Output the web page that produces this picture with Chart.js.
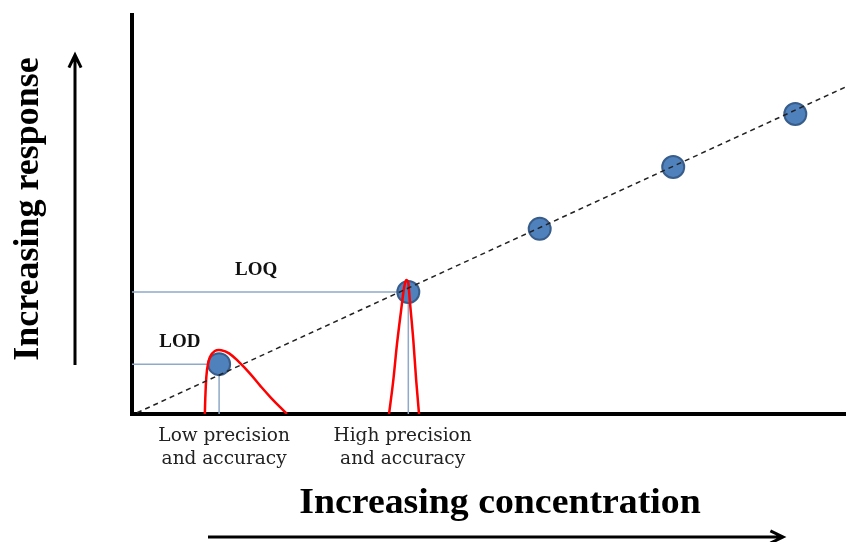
<!DOCTYPE html>
<html>
<head>
<meta charset="utf-8">
<script src="https://cdn.jsdelivr.net/npm/chart.js@4.4.1/dist/chart.umd.min.js"></script>
<style>
	html, body { margin: 0; padding: 0; background: #fff; overflow: hidden; }
	#wrap { position: relative; width: 846px; height: 542px; }
	canvas { display: block; }
</style>
</head>
<body>
<div id="wrap"><canvas id="cal"></canvas></div>
<script>
// calibration standards (concentration / response, arbitrary units 0..10)
const concentration = [1.22, 3.87, 5.71, 7.58, 9.29];
const response = [1.25, 3.06, 4.64, 6.19, 7.52];

// dashed regression line end points
const fitX = [0.07, 10];
const fitY = [0.03, 8.2];

// broad (low precision) spread around the LOD standard
const lodCurveX = [1.02, 1.03, 1.05, 1.09, 1.16, 1.25, 1.36, 1.5, 1.65, 1.8, 1.95, 2.17];
const lodCurveY = [0, 0.55, 1.1, 1.42, 1.58, 1.6, 1.52, 1.3, 1.02, 0.7, 0.4, 0];

// narrow (high precision) spread around the LOQ standard
const loqCurveX = [3.6, 3.66, 3.71, 3.77, 3.81, 3.84, 3.87, 3.89, 3.94, 3.98, 4.02];
const loqCurveY = [0, 0.85, 1.73, 2.61, 3.16, 3.36, 3.28, 2.86, 1.85, 0.85, 0];

// limit labels, anchored in data units
const limitNames = ["LOD", "LOQ"];
const limitLabelX = [0.67, 1.74];
const limitLabelY = [1.68, 3.48];

const precisionLines = [
	["Low precision", "and accuracy"],
	["High precision", "and accuracy"],
];
const precisionX = [1.29, 3.79];

const zip = (xs, ys) => xs.map((x, i) => ({ x: x, y: ys[i] }));

// guide from the y axis across to a standard and down to the x axis
const guide = (i) => [
	{ x: 0, y: response[i] },
	{ x: concentration[i], y: response[i] },
	{ x: concentration[i], y: 0 },
];

const SERIF = '"Liberation Serif", "Times New Roman", serif';
const SERIF_WIDE = '"DejaVu Serif", serif';

function arrow(ctx, x1, y1, x2, y2) {
	const a = Math.atan2(y2 - y1, x2 - x1);
	const h = 14;
	ctx.beginPath();
	ctx.moveTo(x1, y1);
	ctx.lineTo(x2, y2);
	ctx.moveTo(x2 - h * Math.cos(a - 0.45), y2 - h * Math.sin(a - 0.45));
	ctx.lineTo(x2, y2);
	ctx.lineTo(x2 - h * Math.cos(a + 0.45), y2 - h * Math.sin(a + 0.45));
	ctx.stroke();
}

const annotations = {
	id: "annotations",
	afterDraw(chart) {
		const ctx = chart.ctx;
		const xs = chart.scales.x;
		const ys = chart.scales.y;
		const area = chart.chartArea;
		ctx.save();

		// LOD / LOQ
		ctx.fillStyle = "#111";
		ctx.textAlign = "center";
		ctx.textBaseline = "alphabetic";
		ctx.font = "bold 19px " + SERIF;
		limitNames.forEach((name, i) => {
			ctx.fillText(name, xs.getPixelForValue(limitLabelX[i]), ys.getPixelForValue(limitLabelY[i]));
		});

		// precision captions under the x axis
		ctx.font = "18.5px " + SERIF_WIDE;
		ctx.fillStyle = "#222";
		precisionLines.forEach((lines, i) => {
			const px = xs.getPixelForValue(precisionX[i]);
			lines.forEach((t, j) => ctx.fillText(t, px, area.bottom + 27 + j * 23));
		});

		// axis titles
		ctx.fillStyle = "#000";
		ctx.save();
		ctx.translate(500, area.bottom + 99);
		ctx.scale(1.08, 1);
		ctx.font = "bold 35px " + SERIF;
		ctx.fillText("Increasing concentration", 0, 0);
		ctx.restore();

		ctx.save();
		ctx.translate(38, 209);
		ctx.rotate(-Math.PI / 2);
		ctx.font = "bold 36px " + SERIF;
		ctx.fillText("Increasing response", 0, 0);
		ctx.restore();

		// direction arrows
		ctx.strokeStyle = "#000";
		ctx.lineWidth = 3;
		arrow(ctx, 75, 365, 75, 55);
		arrow(ctx, 208, 537, 783, 537);

		ctx.restore();
	},
};

new Chart(document.getElementById("cal"), {
	type: "scatter",
	data: {
		datasets: [
			{
				label: "fit",
				data: zip(fitX, fitY),
				showLine: true,
				pointRadius: 0,
				borderColor: "#222",
				borderWidth: 1.5,
				borderDash: [5, 4],
				order: 1,
			},
			{
				label: "LOD spread",
				data: zip(lodCurveX, lodCurveY),
				showLine: true,
				pointRadius: 0,
				borderColor: "#ff0000",
				borderWidth: 2.5,
				tension: 0.4,
				order: 1,
			},
			{
				label: "LOQ spread",
				data: zip(loqCurveX, loqCurveY),
				showLine: true,
				pointRadius: 0,
				borderColor: "#ff0000",
				borderWidth: 2.5,
				cubicInterpolationMode: "monotone",
				order: 1,
			},
			{
				label: "standards",
				data: zip(concentration, response),
				pointRadius: 11,
				pointBackgroundColor: "#4f81bd",
				pointBorderColor: "#385d8a",
				pointBorderWidth: 2,
				order: 3,
			},
			{
				label: "LOD guide",
				data: guide(0),
				showLine: true,
				pointRadius: 0,
				borderColor: "#8fa9c8",
				borderWidth: 1.5,
				order: 4,
			},
			{
				label: "LOQ guide",
				data: guide(1),
				showLine: true,
				pointRadius: 0,
				borderColor: "#8fa9c8",
				borderWidth: 1.5,
				order: 4,
			},
		],
	},
	options: {
		responsive: true,
		maintainAspectRatio: false,
		animation: false,
		events: [],
		layout: { autoPadding: false, padding: { left: 132, top: 15, right: 0, bottom: 128 } },
		plugins: { legend: { display: false }, tooltip: { enabled: false } },
		scales: {
			x: {
				type: "linear",
				min: 0,
				max: 10,
				grid: { display: false, drawTicks: false },
				border: { display: true, color: "#000", width: 4 },
				ticks: { display: false },
			},
			y: {
				type: "linear",
				min: 0,
				max: 10,
				grid: { display: false, drawTicks: false },
				border: { display: true, color: "#000", width: 4 },
				ticks: { display: false },
			},
		},
	},
	plugins: [annotations],
});
</script>
</body>
</html>
